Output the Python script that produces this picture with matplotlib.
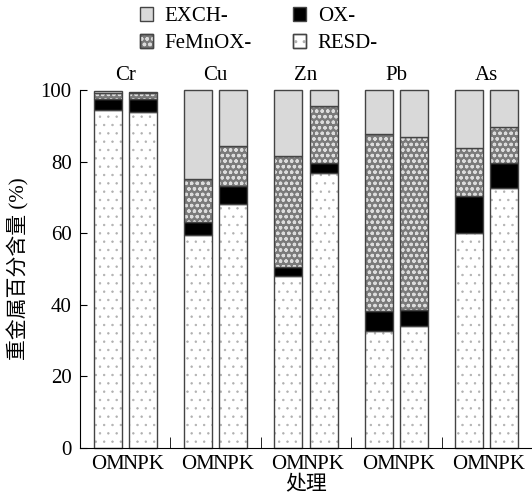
import numpy as np
import matplotlib
matplotlib.use("Agg")
import matplotlib.pyplot as plt
from matplotlib.patches import Patch

plt.rcParams["font.family"] = ["Liberation Serif", "Noto Sans CJK SC"]
plt.rcParams["hatch.linewidth"] = 1.0

metals = ["Cr", "Cu", "Zn", "Pb", "As"]
treatments = ["OM", "NPK"]

# fractions (%), order Cr, Cu, Zn, Pb, As
resd_om = [94.3, 59.5, 48.1, 32.8, 60.1]
resd_npk = [93.9, 68.2, 76.7, 34.2, 72.5]
ox_om = [3.3, 3.7, 2.5, 5.6, 10.3]
ox_npk = [3.7, 5.0, 2.9, 4.3, 7.0]
femnox_om = [1.7, 11.9, 30.9, 49.2, 13.3]
femnox_npk = [1.5, 11.2, 15.9, 48.4, 10.2]
exch_om = [0.4, 24.9, 18.5, 12.4, 16.3]
exch_npk = [0.3, 15.6, 4.5, 13.1, 10.3]

# name, face, hatch, hatch colour, hatch width
styles = [
    ("RESD-", "white", "..", "#b0b0b0", 0.5),
    ("OX-", "black", None, None, None),
    ("FeMnOX-", "#7a7a7a", "ooo", "#dcdcdc", 0.9),
    ("EXCH-", "#d9d9d9", None, None, None),
]
om_parts = [resd_om, ox_om, femnox_om, exch_om]
npk_parts = [resd_npk, ox_npk, femnox_npk, exch_npk]

fig = plt.figure(figsize=(5.32, 5.01), dpi=100)
ax = fig.add_axes([80 / 532, 1 - 448 / 501, 452 / 532, 358 / 501])

x = np.arange(len(metals))
off = 0.195
w = 0.31
edge = "#444444"


def hatched(patches, hw):
    for p in patches:
        if hasattr(p, "set_hatch_linewidth"):
            p.set_hatch_linewidth(hw)


for xpos, parts in [(x - off, om_parts), (x + off, npk_parts)]:
    bottom = np.zeros(len(metals))
    for (name, face, hatch, hcol, hw), vals in zip(styles, parts):
        vals = np.array(vals)
        ax.bar(xpos, vals, w, bottom=bottom, color=face, edgecolor="none", clip_on=False)
        if hatch:
            with plt.rc_context({"hatch.linewidth": hw}):
                b = ax.bar(xpos, vals, w, bottom=bottom, fill=False, edgecolor=hcol,
                           hatch=hatch, linewidth=0, clip_on=False)
            hatched(b, hw)
        ax.bar(xpos, vals, w, bottom=bottom, fill=False, edgecolor=edge,
               linewidth=1.0, clip_on=False)
        bottom += vals

ax.set_xlim(-0.5, 4.5)
ax.set_ylim(0, 100)
ax.spines["top"].set_visible(False)
ax.spines["right"].set_visible(False)

ax.set_xticks(np.concatenate([x - off, x + off]))
ax.set_xticklabels(treatments[:1] * len(metals) + treatments[1:] * len(metals))
ax.set_xticks(x[:-1] + 0.5, minor=True)
ax.tick_params(axis="x", which="major", length=0, labelsize=15, pad=5)
ax.tick_params(axis="x", which="minor", direction="in", length=8)
ax.set_yticks([0, 20, 40, 60, 80, 100])
ax.tick_params(axis="y", direction="in", length=5, labelsize=15, pad=6)

for i, m in enumerate(metals):
    ax.text(i, 104, m, ha="center", va="center", fontsize=15, clip_on=False)

ax.set_ylabel("重金属百分含量 (%)", fontsize=15, labelpad=8)
ax.set_xlabel("处理", fontsize=15, labelpad=2)


# legend, column-wise: EXCH, FeMnOX | OX, RESD
def handle(name, face, hatch, hcol, hw):
    base = Patch(facecolor=face, edgecolor=edge, linewidth=1.0)
    if hatch:
        with plt.rc_context({"hatch.linewidth": hw}):
            hp = Patch(fill=False, edgecolor=hcol, hatch=hatch, linewidth=0)
        hatched([hp], hw)
        return (base, hp, Patch(fill=False, edgecolor=edge, linewidth=1.0))
    return base


sty = {s[0]: s for s in styles}
order = ["EXCH-", "FeMnOX-", "OX-", "RESD-"]
fig.legend([handle(*sty[n]) for n in order], order, loc="upper left",
           bbox_to_anchor=(140 / 532, 1 - 7 / 501), ncol=2, frameon=False,
           fontsize=15, handlelength=0.62, handleheight=0.62, handletextpad=0.55,
           columnspacing=2.0, labelspacing=0.4, borderpad=0, borderaxespad=0)

fig.savefig("out.png", dpi=100)
